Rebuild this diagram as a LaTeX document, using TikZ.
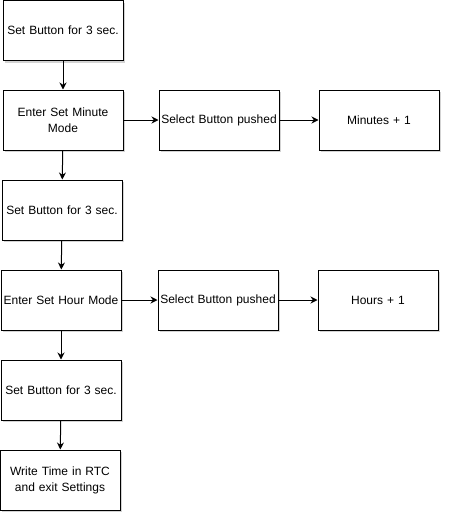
\documentclass[tikz,border=0pt]{standalone}
\usepackage{fontspec}
\setmainfont{Liberation Sans}
\usetikzlibrary{shadows,arrows.meta}
\begin{document}
\begin{tikzpicture}[x=1pt,y=-1pt,
  box/.style={draw=black,fill=white,line width=1pt,minimum width=120pt,minimum height=60pt,
    text width=118pt,align=center,inner sep=0pt,font=\fontsize{12}{16}\selectfont,
    drop shadow={shadow xshift=2pt,shadow yshift=-2pt,fill=gray,opacity=0.35}},
  arr/.style={line width=1pt,-{Stealth[length=7pt,width=7pt]}}]
\useasboundingbox (0,0) rectangle (452,522);
\node[box] (b1) at (63,30.5) {Set Button for 3 sec.};
\node[box] (b2) at (63,120) {Enter Set Minute\\Mode};
\node[box] (b3) at (62,210) {Set Button for 3 sec.};
\node[box] (b4) at (61,300) {Enter Set Hour Mode};
\node[box] (b5) at (61,390) {Set Button for 3 sec.};
\node[box] (b6) at (60,480) {Write Time in RTC\\and exit Settings};
\node[box] (s1) at (219,120) {Select Button pushed};
\node[box] (m1) at (379,120) {Minutes + 1};
\node[box] (s2) at (218,300) {Select Button pushed};
\node[box] (h1) at (378,300) {Hours + 1};
\draw[arr] (b1) -- (b2);
\draw[arr] (b2) -- (b3);
\draw[arr] (b3) -- (b4);
\draw[arr] (b4) -- (b5);
\draw[arr] (b5) -- (b6);
\draw[arr] (b2) -- (s1);
\draw[arr] (s1) -- (m1);
\draw[arr] (b4) -- (s2);
\draw[arr] (s2) -- (h1);
\end{tikzpicture}
\end{document}
